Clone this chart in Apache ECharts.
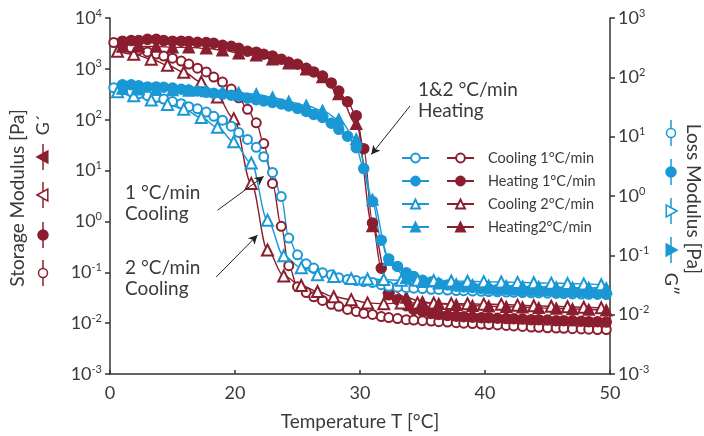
<!DOCTYPE html>
<html><head><meta charset="utf-8">
<script src="https://cdn.jsdelivr.net/npm/echarts@6/dist/echarts.min.js"></script>
<style>html,body{margin:0;padding:0;background:#fff}#c{width:704px;height:436px}</style>
</head><body><div id="c"></div>
<script>
// ---------- data ----------
// temperature grids (°C)
const tCool1 = [10.3, 11.0, 11.7, 12.3, 13.0, 13.7, 14.3, 15.0, 15.7, 16.3, 17.0, 17.7, 18.3, 19.0, 19.7, 20.3, 21.0, 21.7, 22.3, 23.0, 23.7, 24.3, 25.0, 25.7, 26.3, 27.0, 27.7, 28.3, 29.0, 29.7, 30.3, 31.0, 31.7, 32.3, 33.0, 33.7, 34.3, 35.0, 35.7, 36.3, 37.0, 37.7, 38.3, 39.0, 39.7, 40.3, 41.0, 41.7, 42.3, 43.0, 43.7, 44.3, 45.0, 45.7, 46.3, 47.0, 47.7, 48.3, 49.0, 49.7];
const tHeat1 = [11.0, 11.7, 12.3, 13.0, 13.7, 14.3, 15.0, 15.7, 16.3, 17.0, 17.7, 18.3, 19.0, 19.7, 20.3, 21.0, 21.7, 22.3, 23.0, 23.7, 24.3, 25.0, 25.7, 26.3, 27.0, 27.7, 28.3, 29.0, 29.7, 30.3, 31.0, 31.7, 32.3, 33.0, 33.7, 34.3, 35.0, 35.7, 36.3, 37.0, 37.7, 38.3, 39.0, 39.7, 40.3, 41.0, 41.7, 42.3, 43.0, 43.7, 44.3, 45.0, 45.7, 46.3, 47.0, 47.7, 48.3, 49.0, 49.7];
const tCool2 = [10.6, 11.9, 13.3, 14.6, 15.9, 17.3, 18.6, 19.9, 21.3, 22.6, 23.9, 25.3, 26.6, 27.9, 29.3, 30.6, 31.9, 33.3, 34.6, 35.9, 37.3, 38.6, 39.9, 41.3, 42.6, 43.9, 45.3, 46.6, 47.9, 49.3];
const tHeat2 = [11.0, 12.3, 13.7, 15.0, 16.3, 17.7, 19.0, 20.3, 21.7, 23.0, 24.3, 25.7, 27.0, 28.3, 29.7, 31.0, 32.3, 33.7, 35.0, 36.3, 37.7, 39.0, 40.3, 41.7, 43.0, 44.3, 45.7, 47.0, 48.3, 49.7];

// Storage modulus G' [Pa] (left axis)
const gpCool1 = [3300, 2900, 2600, 2350, 2150, 1950, 1780, 1620, 1420, 1240, 1030, 870, 690, 550, 400, 270, 160, 87, 34, 5.6, 0.8, 0.135, 0.052, 0.040, 0.033, 0.028, 0.0235, 0.0214, 0.0186, 0.017, 0.0155, 0.0148, 0.0135, 0.0129, 0.0123, 0.0117, 0.0115, 0.0112, 0.0110, 0.0107, 0.0105, 0.0102, 0.0100, 0.0098, 0.0096, 0.0094, 0.0092, 0.0090, 0.0088, 0.0086, 0.0084, 0.0083, 0.0081, 0.0080, 0.0079, 0.0078, 0.0077, 0.0076, 0.0075, 0.0075];
const gpHeat1 = [3500, 3600, 3600, 3800, 3800, 3600, 3500, 3500, 3450, 3330, 3300, 3180, 2900, 2780, 2530, 2220, 2130, 1940, 1780, 1550, 1350, 1230, 1030, 870, 720, 530, 365, 225, 120, 27, 0.93, 0.12, 0.036, 0.029, 0.022, 0.0186, 0.017, 0.0155, 0.0148, 0.0141, 0.0137, 0.0134, 0.0131, 0.0128, 0.0128, 0.0125, 0.0123, 0.0122, 0.0120, 0.0117, 0.0117, 0.0115, 0.0112, 0.0112, 0.0111, 0.0109, 0.0107, 0.0107, 0.0105];
const gpCool2 = [2220, 1940, 1550, 1180, 860, 550, 280, 105, 5.6, 0.275, 0.085, 0.055, 0.042, 0.033, 0.029, 0.025, 0.024, 0.025, 0.025, 0.0248, 0.0242, 0.024, 0.0236, 0.0234, 0.0226, 0.022, 0.0215, 0.021, 0.0205, 0.020];
const gpHeat2 = [2750, 2750, 2750, 2650, 2650, 2530, 2330, 2030, 1850, 1550, 1290, 980, 690, 320, 83, 0.81, 0.050, 0.032, 0.026, 0.024, 0.023, 0.022, 0.0215, 0.021, 0.0205, 0.020, 0.0195, 0.019, 0.0185, 0.018];

// Loss modulus G'' [Pa] (right axis)
const gppCool1 = [67, 62, 57, 53, 49, 46, 43, 39, 36, 32, 29.5, 26, 22, 19, 15, 11.7, 9, 6.6, 4.6, 2.5, 0.98, 0.195, 0.102, 0.072, 0.061, 0.051, 0.047, 0.042, 0.039, 0.0375, 0.036, 0.035, 0.032, 0.030, 0.029, 0.0285, 0.028, 0.0275, 0.0268, 0.0266, 0.026, 0.0255, 0.0254, 0.025, 0.0248, 0.0245, 0.0243, 0.024, 0.0238, 0.0236, 0.0234, 0.0232, 0.023, 0.0228, 0.0226, 0.0224, 0.0222, 0.022, 0.0219, 0.0218];
const gppHeat1 = [75, 75, 72, 69, 69, 68, 66, 63, 61, 59, 56, 54, 52, 50, 48, 44.5, 42, 40, 37.6, 35.5, 33, 30, 26.6, 23.7, 21, 16.8, 13.3, 10.2, 6.5, 2.9, 0.81, 0.18, 0.087, 0.065, 0.051, 0.044, 0.038, 0.0355, 0.0335, 0.0316, 0.0302, 0.0293, 0.0288, 0.0278, 0.0272, 0.0266, 0.0266, 0.026, 0.0255, 0.0255, 0.025, 0.025, 0.0245, 0.0245, 0.024, 0.024, 0.0236, 0.0235, 0.0232];
const gppCool2 = [57, 49, 41.5, 35, 29, 21, 14.4, 8.2, 3.6, 0.39, 0.098, 0.062, 0.047, 0.044, 0.0405, 0.040, 0.039, 0.038, 0.038, 0.0375, 0.037, 0.0365, 0.036, 0.0355, 0.035, 0.0345, 0.034, 0.0335, 0.033, 0.032];
const gppHeat2 = [65, 63, 62, 61, 60, 59, 57.5, 55, 52, 46, 39, 33.5, 27.5, 19.6, 9.1, 0.87, 0.084, 0.042, 0.036, 0.034, 0.0325, 0.0316, 0.031, 0.0305, 0.030, 0.0295, 0.029, 0.0285, 0.0285, 0.028];

const xTickValues = [10, 20, 30, 40, 50];
const xTickLabels = ['0', '20', '30', '40', '50'];
const legendLabels = ['Cooling 1°C/min', 'Heating 1°C/min', 'Cooling 2°C/min', 'Heating2°C/min'];
// annotation arrows in data coordinates [T, G'] (tail -> head)
const arrowTails = [[34.0, 186], [18.6, 1.66], [18.5, 0.081]];
const arrowHeads = [[30.9, 20.6], [22.3, 7.7], [21.8, 0.54]];

// ---------- style ----------
const RED = '#8b1e2e', BLUE = '#1a98d5', INK = '#3a3a3a';
const FONT = 'Lato, "DejaVu Sans", sans-serif';

const zip = (xs, ys) => xs.map((x, i) => [x, ys[i]]);
const sym = ['emptyCircle', 'circle', 'emptyTriangle', 'triangle'];
const symSize = [9, 10, 11, 11];
const tGrids = [tCool1, tHeat1, tCool2, tHeat2];
const gp = [gpCool1, gpHeat1, gpCool2, gpHeat2];
const gpp = [gppCool1, gppHeat1, gppCool2, gppHeat2];
const redNames = legendLabels.map(l => "G′ " + l);
const blueNames = legendLabels.map(l => "G″ " + l);

function mk(name, data, color, i, yAxisIndex) {
  return {
    name, type: 'line', data, yAxisIndex,
    smooth: 0.35, smoothMonotone: 'x',
    symbol: sym[i], symbolSize: symSize[i],
    lineStyle: { color, width: 1.4 },
    itemStyle: { color, borderColor: color, borderWidth: 1.5 },
    emphasis: { disabled: true }
  };
}
const series = [];
for (let i = 0; i < 4; i++) series.push(mk(redNames[i], zip(tGrids[i], gp[i]), RED, i, 0));
for (let i = 0; i < 4; i++) series.push(mk(blueNames[i], zip(tGrids[i], gpp[i]), BLUE, i, 1));
series[0].markLine = {
  silent: true, symbol: ['none', 'arrow'], symbolSize: [7, 9],
  lineStyle: { color: '#222', width: 1, type: 'solid' },
  label: { show: false },
  data: arrowTails.map((a, k) => [{ coord: a }, { coord: arrowHeads[k] }])
};

function powLabel(v) {
  const e = Math.round(Math.log10(v));
  return '{b|10}{s|' + String(e) + '}';
}
const rich = {
  b: { fontSize: 18, fontFamily: FONT, color: INK, lineHeight: 21 },
  s: { fontSize: 11, fontFamily: FONT, color: INK, verticalAlign: 'top', lineHeight: 12 }
};
const axisLineStyle = { color: '#333', width: 1.5 };

// side glyph columns (rotated legends by the axis titles)
function glyphs(cx, items, dir) {
  const out = [];
  items.forEach(it => {
    if (it.text) {
      out.push({ type: 'text', x: cx, y: it.y, rotation: dir === 'left' ? Math.PI / 2 : -Math.PI / 2,
        style: { text: it.text, font: '18px ' + FONT, fill: INK, align: 'center', verticalAlign: 'middle' } });
      return;
    }
    out.push({ type: 'line', shape: { x1: cx, y1: it.y - 13, x2: cx, y2: it.y + 13 }, style: { stroke: it.c, lineWidth: 1.5 } });
    const fill = it.filled ? it.c : '#fff';
    if (it.shape === 'circle') {
      out.push({ type: 'circle', shape: { cx, cy: it.y, r: it.filled ? 5 : 4.5 }, style: { fill, stroke: it.c, lineWidth: 1.5 } });
    } else {
      const s = 6;
      const pts = dir === 'left'
        ? [[cx - s, it.y], [cx + s * 0.8, it.y - s], [cx + s * 0.8, it.y + s]]
        : [[cx + s, it.y], [cx - s * 0.8, it.y - s], [cx - s * 0.8, it.y + s]];
      out.push({ type: 'polygon', shape: { points: pts }, style: { fill, stroke: it.c, lineWidth: 1.5 } });
    }
  });
  return out;
}

const txt = (x, y, text) => ({ type: 'text', x, y, style: { text, font: '19px ' + FONT, fill: INK, align: 'left', verticalAlign: 'middle' } });

const graphic = [
  { type: 'text', x: 18, y: 198, rotation: Math.PI / 2, style: { text: 'Storage Modulus [Pa]', font: '19px ' + FONT, fill: INK, align: 'center', verticalAlign: 'middle' } },
  { type: 'text', x: 693, y: 199, rotation: -Math.PI / 2, style: { text: 'Loss Modulus [Pa]', font: '19px ' + FONT, fill: INK, align: 'center', verticalAlign: 'middle' } },
  ...glyphs(43, [
    { y: 125, text: 'G´' },
    { y: 157, shape: 'tri', filled: true, c: RED },
    { y: 195, shape: 'tri', filled: false, c: RED },
    { y: 235, shape: 'circle', filled: true, c: RED },
    { y: 273, shape: 'circle', filled: false, c: RED }
  ], 'left'),
  ...glyphs(671, [
    { y: 133, shape: 'circle', filled: false, c: BLUE },
    { y: 172, shape: 'circle', filled: true, c: BLUE },
    { y: 211, shape: 'tri', filled: false, c: BLUE },
    { y: 250, shape: 'tri', filled: true, c: BLUE },
    { y: 284, text: 'G″' }
  ], 'right'),
  txt(418, 90, '1&2 °C/min'), txt(418, 111, 'Heating'),
  txt(125, 193, '1 °C/min'), txt(125, 214, 'Cooling'),
  txt(125, 268, '2 °C/min'), txt(125, 289, 'Cooling')
];

const legendCommon = {
  orient: 'vertical', top: 150, itemWidth: 27, itemHeight: 11, itemGap: 7,
  selectedMode: false, padding: 0
};

const option = {
  animation: false,
  backgroundColor: '#fff',
  grid: { left: 110, right: 94, top: 18, bottom: 59 },
  legend: [
    Object.assign({}, legendCommon, { left: 401, data: blueNames, formatter: () => ' ',
      textStyle: { fontSize: 14.5, fontFamily: FONT, color: INK, lineHeight: 16 } }),
    Object.assign({}, legendCommon, { left: 446, data: redNames, formatter: n => legendLabels[redNames.indexOf(n)],
      textStyle: { fontSize: 14.5, fontFamily: FONT, color: INK, lineHeight: 16, padding: [0, 0, 0, 9] } })
  ],
  xAxis: {
    type: 'value', min: 10, max: 50, interval: 10,
    name: 'Temperature T [°C]', nameLocation: 'middle', nameGap: 38,
    nameTextStyle: { fontSize: 19, fontFamily: FONT, color: INK },
    axisLine: { lineStyle: axisLineStyle },
    axisTick: { inside: true, length: 4, lineStyle: axisLineStyle },
    splitLine: { show: false },
    axisLabel: { fontSize: 18, fontFamily: FONT, color: INK, margin: 10,
      formatter: v => { const k = xTickValues.indexOf(v); return k >= 0 ? xTickLabels[k] : ''; } }
  },
  yAxis: [
    { type: 'log', logBase: 10, min: 1e-3, max: 1e4, position: 'left',
      axisLine: { show: true, lineStyle: axisLineStyle },
      axisTick: { show: true, length: 5, lineStyle: axisLineStyle },
      splitLine: { show: false }, minorTick: { show: false },
      axisLabel: { margin: 8, formatter: powLabel, rich } },
    { type: 'log', logBase: 10, min: 1e-3, max: 1e3, position: 'right',
      axisLine: { show: true, lineStyle: axisLineStyle },
      axisTick: { show: true, length: 5, lineStyle: axisLineStyle },
      splitLine: { show: false }, minorTick: { show: false },
      axisLabel: { margin: 8, formatter: powLabel, rich } }
  ],
  graphic,
  series
};
const chart = echarts.init(document.getElementById('c'), null, { renderer: 'canvas' });
chart.setOption(option);
</script>
</body></html>
